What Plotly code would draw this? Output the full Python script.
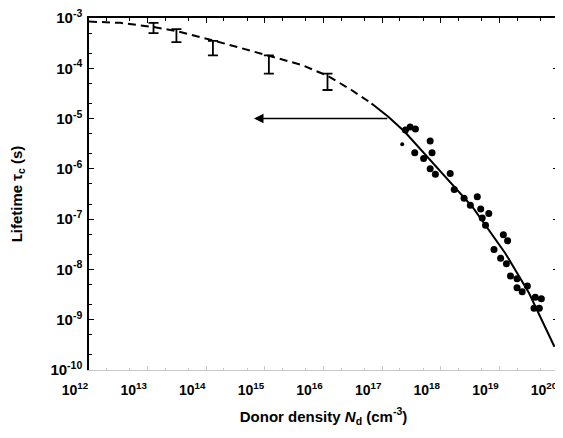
import numpy as np
import plotly.graph_objects as go

# ---- data ----
# error-bar measurements (low density)
eb_x = [1.26e13, 3.1e13, 1.3e14, 1.17e15, 1.17e16]
eb_y = [6.3e-4, 4.5e-4, 2.5e-4, 1.2e-4, 5.4e-5]
eb_hi = [8.0e-4, 6.0e-4, 3.5e-4, 1.8e-4, 7.8e-5]
eb_lo = [5.0e-4, 3.3e-4, 1.8e-4, 7.8e-5, 3.7e-5]

# scattered measurements (high density)
pts_x = [2.5e17, 3.0e17, 3.7e17, 6.6e17, 2.2e17, 3.6e17, 7.1e17, 5.1e17, 6.6e17, 8.1e17,
         1.45e18, 1.7e18, 2.5e18, 4.2e18, 3.2e18, 4.8e18, 6.6e18, 5.1e18, 5.8e18, 1.17e19,
         1.38e19, 8.1e18, 1.05e19, 1.32e19, 1.55e19, 2.0e19, 2.0e19, 2.45e19, 3.0e19, 4.1e19,
         5.2e19, 3.9e19, 4.8e19]
pts_y = [5.9e-6, 6.8e-6, 6.2e-6, 3.6e-6, 3.1e-6, 2.1e-6, 2.1e-6, 1.6e-6, 1.0e-6, 7.8e-7,
         8.1e-7, 3.9e-7, 2.6e-7, 2.8e-7, 1.9e-7, 1.6e-7, 1.3e-7, 1.05e-7, 7.6e-8, 4.9e-8,
         3.7e-8, 2.5e-8, 1.66e-8, 1.29e-8, 7.4e-9, 6.5e-9, 4.3e-9, 3.6e-9, 4.7e-9, 2.8e-9,
         2.6e-9, 1.7e-9, 1.7e-9]
pts_size = [7, 7, 7, 7, 4, 7, 7, 7, 7, 7,
            7, 7, 7, 7, 7, 7, 7, 7, 7, 7,
            7, 7, 7, 7, 7, 7, 7, 7, 7, 7,
            7, 7, 7]

# model curve: dashed (extrapolated) and solid (fit)
dash_x = [1e12, 3.4e12, 1.26e13, 3.1e13, 1.3e14, 1.17e15, 4.2e15, 1.17e16, 3.0e16, 6.6e16]
dash_y = [8.5e-4, 8.0e-4, 6.6e-4, 5.5e-4, 3.6e-4, 1.8e-4, 1.17e-4, 7.1e-5, 3.7e-5, 2.0e-5]
solid_x = [6.6e16, 1.29e17, 2.45e17, 9.3e17, 3.5e18, 1.26e19, 3.2e19, 8.7e19]
solid_y = [2.0e-5, 1.07e-5, 5.4e-6, 9.5e-7, 1.74e-7, 2.1e-8, 3.4e-9, 2.9e-10]

# arrow
arrow_from_x = 1.3e17
arrow_to_x = 6.5e14
arrow_y = 1e-5

x_ticks = [1e12, 1e13, 1e14, 1e15, 1e16, 1e17, 1e18, 1e19, 1e20]
x_ticklabels = ["10<sup>12</sup>", "10<sup>13</sup>", "10<sup>14</sup>", "10<sup>15</sup>",
                "10<sup>16</sup>", "10<sup>17</sup>", "10<sup>18</sup>", "10<sup>19</sup>",
                "10<sup>20</sup>"]
y_ticks = [1e-10, 1e-9, 1e-8, 1e-7, 1e-6, 1e-5, 1e-4, 1e-3]
y_ticklabels = ["10<sup>-10</sup>", "10<sup>-9</sup>", "10<sup>-8</sup>", "10<sup>-7</sup>",
                "10<sup>-6</sup>", "10<sup>-5</sup>", "10<sup>-4</sup>", "10<sup>-3</sup>"]

FONT = "Liberation Sans, Arial, sans-serif"

fig = go.Figure()

fig.add_trace(go.Scatter(x=dash_x, y=dash_y, mode="lines",
                         line=dict(color="black", width=2, dash="8px,5px"),
                         hoverinfo="skip", showlegend=False))
fig.add_trace(go.Scatter(x=solid_x, y=solid_y, mode="lines",
                         line=dict(color="black", width=2),
                         hoverinfo="skip", showlegend=False))

eb_plus = [h - c for h, c in zip(eb_hi, eb_y)]
eb_minus = [c - l for c, l in zip(eb_y, eb_lo)]
fig.add_trace(go.Scatter(x=eb_x, y=eb_y, mode="markers",
                         marker=dict(size=1, color="black"),
                         error_y=dict(type="data", array=eb_plus, arrayminus=eb_minus,
                                      symmetric=False, color="black", thickness=1.8, width=5),
                         showlegend=False))

fig.add_trace(go.Scatter(x=pts_x, y=pts_y, mode="markers",
                         marker=dict(size=pts_size, color="black", opacity=1,
                                     line=dict(width=0)),
                         showlegend=False))

# invisible trace on top axis
fig.add_trace(go.Scatter(x=[1e12], y=[1e-3], xaxis="x2", mode="markers",
                         marker=dict(size=0.1, opacity=0), showlegend=False, hoverinfo="skip"))

fig.add_annotation(x=np.log10(arrow_to_x), y=np.log10(arrow_y),
                   ax=np.log10(arrow_from_x), ay=np.log10(arrow_y),
                   xref="x", yref="y", axref="x", ayref="y",
                   showarrow=True, arrowhead=2, arrowsize=1.2, arrowwidth=1.6,
                   arrowcolor="black", text="")

# page body adds an 8px offset; margins compensate so the plot box sits at x 89-558, y 18-370
fig.update_layout(
    width=563, height=438,
    margin=dict(l=81, r=13, t=10, b=76),
    paper_bgcolor="white", plot_bgcolor="white",
    font=dict(family=FONT, size=14, color="black"),
    xaxis=dict(type="log", range=[12, 20], tickvals=x_ticks, ticktext=x_ticklabels,
               automargin=False, ticklabelshift=-14, ticklabelstandoff=7,
               ticklabeloverflow="allow",
               showgrid=False, zeroline=False, showline=True, linecolor="#c8c8c8",
               linewidth=1, ticks="inside", ticklen=4, tickcolor="#c8c8c8",
               minor=dict(ticks="inside", ticklen=2, tickcolor="#c8c8c8", showgrid=False),
               tickfont=dict(size=14, family=FONT, weight="bold"),
               title=dict(text="Donor density <i>N</i><sub>d</sub> (cm<sup>-3</sup>)",
                          font=dict(size=15, family=FONT, weight="bold"), standoff=14)),
    xaxis2=dict(type="log", range=[12, 20], overlaying="x", side="top", anchor="y",
                automargin=False,
                showgrid=False, zeroline=False, showline=True, linecolor="black",
                linewidth=1.5, ticks="inside", ticklen=5, tickcolor="black",
                tickvals=x_ticks, showticklabels=False,
                minor=dict(ticks="inside", ticklen=3, tickcolor="black", showgrid=False)),
    yaxis=dict(type="log", range=[-10, -3], tickvals=y_ticks, ticktext=y_ticklabels,
               automargin=False, ticklabelstandoff=2, ticklabeloverflow="allow",
               showgrid=False, zeroline=False, showline=True, linecolor="black",
               linewidth=1.5, mirror="ticks", ticks="inside", ticklen=5, tickcolor="black",
               minor=dict(ticks="inside", ticklen=3, tickcolor="black", showgrid=False),
               tickfont=dict(size=15, family=FONT, weight="bold"),
               title=dict(text="Lifetime τ<sub>c</sub> (s)",
                          font=dict(size=15, family=FONT, weight="bold"), standoff=24)),
)

fig.write_html("out.html")
